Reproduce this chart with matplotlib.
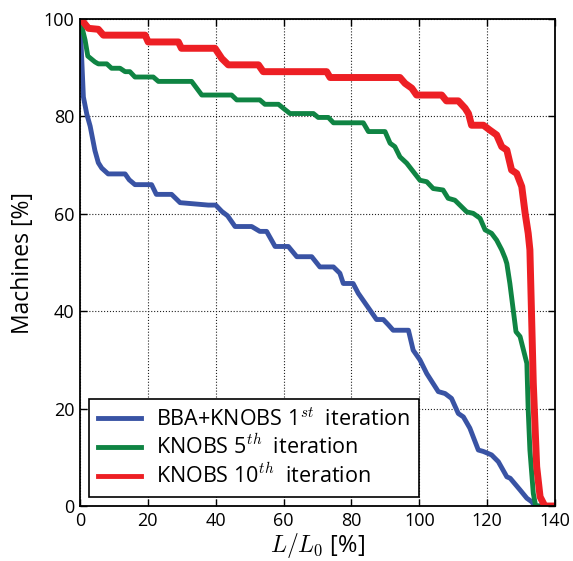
import matplotlib
matplotlib.use("Agg")
import matplotlib.pyplot as plt

plt.rcParams['font.family'] = ['Open Sans', 'DejaVu Sans']
plt.rcParams['mathtext.fontset'] = 'cm'

# BBA+KNOBS 1st iteration
x_blue = [0, 0.5, 1.0, 2.0, 3.0, 4.4, 5.4, 6.4, 8.3, 13.3, 14.5, 16.2, 21.1, 22.5, 27, 29.5, 37.8, 40, 41.8,
          43.5, 45.7, 50.6, 53, 55, 57.5, 61.4, 63.9, 68.3, 70.7, 74.7, 76.6, 77.6, 80.5, 82, 87.4, 89.4,
          90.9, 92.3, 96.8, 98.2, 100.2, 102.2, 105.6, 107.6, 109.5, 111.5, 113, 114.9, 117.4, 118.9,
          121.3, 123.3, 125.8, 126.8, 129.7, 131.7, 133.1, 134.1, 136]
y_blue = [100, 92, 84, 80.5, 78, 73, 70.5, 69.4, 68.2, 68.2, 67, 66, 66, 64, 64, 62.3, 61.8, 61.8, 60.5,
          59.6, 57.4, 57.4, 56.4, 56.4, 53.3, 53.3, 51.2, 51.2, 49.1, 49.1, 47.8, 45.7, 45.7, 43.7, 38.3,
          38.3, 37.2, 36.1, 36.1, 32, 30, 27.2, 23.5, 23.1, 22.1, 19, 18.3, 16, 11.5, 11.2, 10.5, 9.1,
          6, 5.7, 3.3, 1.6, 0.9, 0, 0]

# KNOBS 5th iteration
x_green = [0, 1.5, 2.3, 4.4, 5.4, 7.9, 9.3, 11.8, 13.3, 14.7, 16.2, 21.6, 23.1, 32.9, 35.9, 44.7, 46.2,
           53, 54.5, 58.5, 59.9, 61.9, 68.8, 70.2, 73.2, 74.7, 83.5, 85, 89.9, 91.4, 92.8, 94.3, 96.3,
           100.2, 102.2, 104.1, 107, 108.5, 110.5, 114, 115.9, 117.9, 119.4, 121.3, 122.8, 124.3, 125.3,
           125.8, 126.7, 127.7, 128.5, 129.7, 131.7, 132.1, 132.6, 133.6, 134.3, 137]
y_green = [100, 95.7, 92.4, 91.2, 90.8, 90.8, 89.9, 89.9, 89.2, 89.2, 88.1, 88.1, 87.2, 87.2, 84.4, 84.4,
           83.4, 83.4, 82.5, 82.5, 81.7, 80.6, 80.6, 79.8, 79.8, 78.7, 78.7, 76.9, 76.9, 74.5, 73.8, 71.7,
           70.4, 66.9, 66.6, 65.2, 64.9, 63.2, 62.8, 60.4, 60.1, 59.1, 56.7, 56, 54.6, 52.6, 50.9,
           49.8, 45.7, 40.2, 35.8, 34.8, 29.3, 19.7, 11.5, 2.6, 0, 0]

# KNOBS 10th iteration
x_red = [0, 0.5, 2.5, 5.4, 6.9, 19.2, 20.1, 29, 29.9, 39.8, 41.8, 43.7, 52.6, 54, 72.7, 73.7, 94.3, 95.8,
         97.8, 99.2, 106.6, 108, 111.5, 113.5, 114.5, 115.4, 118.9, 120.8, 122.8, 124.3, 125.8, 127.2,
         128.7, 130.2, 131.2, 132.1, 132.6, 133.6, 134.6, 135.6, 137, 140]
y_red = [100, 99.8, 98.1, 97.9, 96.7, 96.7, 95.3, 95.3, 94, 94, 91.9, 90.6, 90.6, 89.2, 89.2, 88, 88, 86.8,
         85.8, 84.4, 84.4, 83.2, 83.2, 81.7, 80.6, 78.2, 78.2, 77.2, 76.2, 73.8, 73.1, 69, 68.3, 65.6,
         60.1, 56, 52.6, 25.2, 8.1, 1.9, 0, 0]

labels = [r'BBA+KNOBS 1$^{st}\;$ iteration', r'KNOBS 5$^{th}\;$ iteration', r'KNOBS 10$^{th}\;$ iteration']
colors = ['#3953a4', '#0f8443', '#ed1f24']

fig = plt.figure(figsize=(5.73, 5.61), dpi=100)
ax = fig.add_axes([0.1396, 0.098, 0.829, 0.868])

ax.plot(x_blue, y_blue, color=colors[0], lw=3.5, label=labels[0])
ax.plot(x_green, y_green, color=colors[1], lw=3.5, label=labels[1])
ax.plot(x_red, y_red, color=colors[2], lw=5, label=labels[2])

ax.set_xlim(0, 140)
ax.set_ylim(0, 100)
ax.set_xticks(range(0, 141, 20))
ax.set_yticks(range(0, 101, 20))
ax.grid(True, color='#222222', linestyle=':', linewidth=0.8)
ax.tick_params(direction='in', top=True, right=True, labelsize=13, length=5, width=1, pad=4)
for s in ax.spines.values():
    s.set_linewidth(1.3)

ax.set_xlabel('$L/L_0$ [%]', fontsize=17, labelpad=1)
ax.set_ylabel('Machines [%]', fontsize=16.5, labelpad=6)

leg = ax.legend(loc='lower left', fontsize=15.5, fancybox=False, borderaxespad=0.42,
                handlelength=2.0, handletextpad=0.7, labelspacing=0.22, framealpha=1)
leg.get_frame().set_edgecolor('black')
leg.get_frame().set_linewidth(1.2)
for h in leg.get_lines():
    h.set_linewidth(3.5)

fig.savefig('out.png', dpi=100)
